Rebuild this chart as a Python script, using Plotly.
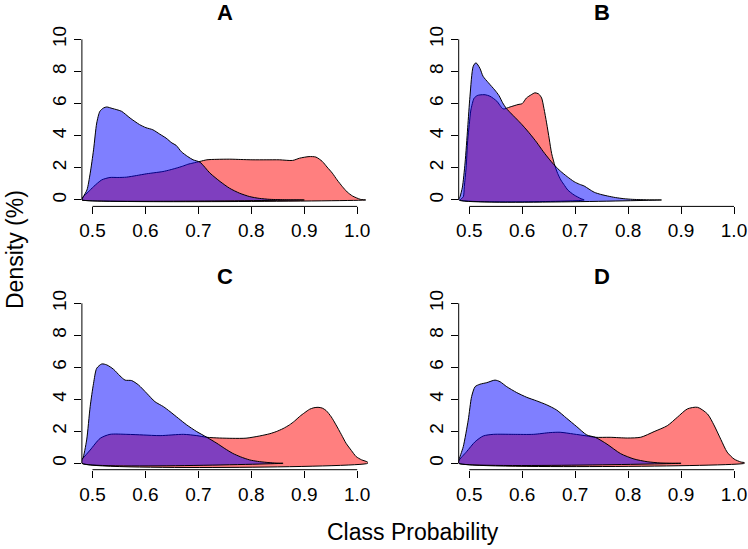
import plotly.graph_objects as go

# ---------------- data ----------------
panels = ["A", "B", "C", "D"]

a_blue_x = [0.48, 0.4825, 0.4895, 0.4957, 0.502, 0.508, 0.514, 0.521, 0.527, 0.537, 0.546, 0.555, 0.571, 0.589,
            0.601, 0.614, 0.627, 0.639, 0.65, 0.658, 0.668, 0.68, 0.69, 0.703, 0.722, 0.741, 0.759, 0.778, 0.797,
            0.815, 0.835, 0.866, 0.9]
a_blue_y = [0.05, 0.2, 0.62, 1.67, 3.12, 4.79, 5.52, 5.73, 5.79, 5.7, 5.62, 5.52, 5.1, 4.69, 4.5, 4.37, 4.1, 3.85,
            3.55, 3.4, 3.0, 2.7, 2.5, 2.35, 1.67, 1.15, 0.73, 0.42, 0.21, 0.1, 0.04, 0.01, 0.0]
a_red_x = [0.48, 0.4825, 0.492, 0.502, 0.5175, 0.533, 0.548, 0.564, 0.583, 0.602, 0.618, 0.633, 0.646, 0.658, 0.67,
           0.68, 0.69, 0.703, 0.716, 0.735, 0.759, 0.78, 0.803, 0.828, 0.853, 0.878, 0.891, 0.909, 0.922, 0.934,
           0.943, 0.953, 0.962, 0.972, 0.981, 0.991, 1.006, 1.016]
a_red_y = [0.05, 0.2, 0.5, 0.83, 1.25, 1.4, 1.4, 1.42, 1.52, 1.63, 1.7, 1.77, 1.87, 1.98, 2.1, 2.22, 2.3, 2.4, 2.5,
           2.53, 2.54, 2.52, 2.5, 2.5, 2.5, 2.46, 2.6, 2.7, 2.67, 2.4, 2.05, 1.67, 1.25, 0.83, 0.5, 0.25, 0.04, 0.0]

b_blue_x = [0.48, 0.4825, 0.487, 0.492, 0.497, 0.5013, 0.5075, 0.5126, 0.52, 0.526, 0.536, 0.548, 0.556, 0.563,
            0.57, 0.58, 0.592, 0.602, 0.615, 0.627, 0.64, 0.652, 0.662, 0.672, 0.685, 0.698, 0.708, 0.717, 0.726,
            0.736, 0.748, 0.761, 0.776, 0.792, 0.808, 0.824, 0.845, 0.863]
b_blue_y = [0.0, 0.2, 0.8, 2.3, 4.5, 6.46, 8.33, 8.54, 8.2, 7.7, 7.3, 6.85, 6.5, 6.05, 5.7, 5.35, 4.95, 4.6, 4.1,
            3.6, 3.0, 2.5, 2.12, 1.8, 1.45, 1.14, 0.98, 0.87, 0.68, 0.48, 0.35, 0.25, 0.15, 0.08, 0.04, 0.02,
            0.005, 0.0]
b_red_x = [0.483, 0.4887, 0.4906, 0.494, 0.497, 0.5, 0.503, 0.509, 0.515, 0.52, 0.53, 0.539, 0.552, 0.564, 0.577,
           0.592, 0.6, 0.608, 0.617, 0.624, 0.631, 0.6366, 0.641, 0.646, 0.651, 0.6555, 0.662, 0.667, 0.673, 0.68,
           0.686, 0.698, 0.711, 0.717]
b_red_y = [0.0, 0.2, 0.83, 2.0, 3.7, 4.7, 5.6, 6.33, 6.5, 6.54, 6.55, 6.46, 6.15, 5.67, 5.79, 5.94, 6.0, 6.35, 6.55,
           6.67, 6.6, 6.35, 5.7, 4.8, 3.8, 2.9, 2.1, 1.65, 1.24, 0.9, 0.62, 0.31, 0.08, 0.0]

c_blue_x = [0.48, 0.4818, 0.489, 0.4956, 0.502, 0.508, 0.5176, 0.527, 0.5396, 0.552, 0.5616, 0.574, 0.5868, 0.6025,
            0.618, 0.634, 0.6465, 0.6623, 0.678, 0.697, 0.716, 0.735, 0.75, 0.765, 0.78, 0.797, 0.812, 0.828,
            0.843, 0.86]
c_blue_y = [0.25, 0.31, 1.46, 3.54, 5.0, 5.94, 6.21, 6.15, 5.88, 5.46, 5.2, 5.17, 4.9, 4.375, 3.85, 3.54, 3.23,
            2.81, 2.4, 1.98, 1.625, 1.25, 0.92, 0.62, 0.4, 0.21, 0.12, 0.06, 0.02, 0.0]
c_red_x = [0.48, 0.4818, 0.4956, 0.5145, 0.533, 0.565, 0.596, 0.6277, 0.672, 0.697, 0.716, 0.74, 0.765, 0.79,
           0.816, 0.835, 0.847, 0.86, 0.872, 0.882, 0.891, 0.901, 0.91, 0.918, 0.926, 0.934, 0.9415, 0.951, 0.96,
           0.97, 0.979, 0.989, 0.998, 1.008, 1.02]
c_red_y = [0.25, 0.31, 0.83, 1.56, 1.81, 1.81, 1.77, 1.73, 1.81, 1.73, 1.625, 1.58, 1.56, 1.57, 1.71, 1.85, 1.98,
           2.17, 2.4, 2.65, 2.92, 3.17, 3.375, 3.47, 3.5, 3.45, 3.29, 2.9, 2.4, 1.8, 1.25, 0.8, 0.42, 0.22, 0.07]

d_blue_x = [0.48, 0.4886, 0.498, 0.5044, 0.511, 0.52, 0.533, 0.5486, 0.558, 0.5707, 0.5896, 0.6085, 0.6274, 0.6464,
            0.665, 0.684, 0.703, 0.722, 0.738, 0.76, 0.786, 0.811, 0.836, 0.862, 0.9]
d_blue_y = [0.15, 1.04, 2.7, 4.17, 4.79, 4.94, 5.04, 5.2, 5.1, 4.79, 4.42, 4.125, 3.9, 3.65, 3.33, 2.81, 2.29, 1.77,
            1.625, 1.2, 0.6, 0.27, 0.1, 0.02, 0.0]
d_red_x = [0.48, 0.495, 0.511, 0.5265, 0.5454, 0.583, 0.621, 0.6527, 0.6716, 0.697, 0.722, 0.738, 0.766, 0.799,
           0.824, 0.849, 0.874, 0.893, 0.912, 0.931, 0.95, 0.962, 0.975, 0.987, 1.0, 1.013, 1.02]
d_red_y = [0.15, 0.73, 1.35, 1.71, 1.81, 1.81, 1.81, 1.92, 1.94, 1.83, 1.71, 1.625, 1.625, 1.58, 1.63, 1.98, 2.35,
           2.88, 3.4, 3.5, 3.08, 2.4, 1.5, 0.7, 0.27, 0.08, 0.04]

series = {
    "A": ((a_red_x, a_red_y), (a_blue_x, a_blue_y)),
    "B": ((b_red_x, b_red_y), (b_blue_x, b_blue_y)),
    "C": ((c_red_x, c_red_y), (c_blue_x, c_blue_y)),
    "D": ((d_red_x, d_red_y), (d_blue_x, d_blue_y)),
}

x_ticks = [0.5, 0.6, 0.7, 0.8, 0.9, 1.0]
y_ticks = [0, 2, 4, 6, 8, 10]
x_title = "Class Probability"
y_title = "Density (%)"

# ---------------- layout geometry (pixels) ----------------
W, H = 748, 549
FONT = "Liberation Sans, Arial, Helvetica, sans-serif"
# plot regions: left, right, top, bottom in pixels
regions = {
    "A": (81.9, 367.8, 32.9, 206.4),
    "B": (458.7, 744.6, 32.9, 206.4),
    "C": (81.9, 367.8, 296.9, 469.7),
    "D": (458.7, 744.6, 296.9, 469.7),
}

RED_FILL = "rgba(255,0,0,0.5)"
BLUE_FILL = "rgba(0,0,255,0.5)"


def closed(xs, ys):
    px, py = list(xs), list(ys)
    if py[0] != 0:
        px.insert(0, xs[0]); py.insert(0, 0)
    if py[-1] != 0:
        px.append(xs[-1]); py.append(0)
    px.append(px[0]); py.append(0)
    return px, py


fig = go.Figure()
shapes = []
annotations = []

for i, p in enumerate(panels):
    n = "" if i == 0 else str(i + 1)
    xa, ya = "x" + n, "y" + n
    l, r, t, b = regions[p]
    xdom = [l / W, r / W]
    ydom = [1 - b / H, 1 - t / H]
    (rx, ry), (bx, by) = series[p]
    for (sx, sy), col in (((rx, ry), RED_FILL), ((bx, by), BLUE_FILL)):
        px, py = closed(sx, sy)
        fig.add_trace(go.Scatter(
            x=px, y=py, xaxis=xa, yaxis=ya, mode="lines", fill="toself",
            fillcolor=col, line=dict(color="black", width=1, shape="spline", smoothing=0.7),
            hoverinfo="skip", showlegend=False))
    axis_common = dict(showgrid=False, zeroline=False, showline=False, ticks="outside", ticklen=7,
                       tickwidth=1, tickcolor="black", automargin=False, ticklabeloverflow="allow",
                       tickfont=dict(family=FONT, size=19, color="black"))
    fig.layout["xaxis" + n] = dict(domain=xdom, range=[0.48, 1.02], tickvals=x_ticks, tickformat=".1f",
                                   anchor=ya, **axis_common)
    fig.layout["yaxis" + n] = dict(domain=ydom, range=[-0.4, 10.4], tickvals=y_ticks, tickangle=-90,
                                   anchor=xa, **axis_common)
    # R-style axis lines spanning only the tick range
    shapes.append(dict(type="line", xref=xa, yref="paper", x0=x_ticks[0], x1=x_ticks[-1],
                       y0=ydom[0], y1=ydom[0], line=dict(color="black", width=1)))
    shapes.append(dict(type="line", xref="paper", yref=ya, x0=xdom[0], x1=xdom[0],
                       y0=y_ticks[0], y1=y_ticks[-1], line=dict(color="black", width=1)))
    annotations.append(dict(text="<b>%s</b>" % p, xref="paper", yref="paper", x=(l + r) / 2 / W,
                            y=1 - (t - 20) / H, xanchor="center", yanchor="middle", showarrow=False,
                            font=dict(family=FONT, size=22, color="black")))

annotations.append(dict(text=x_title, xref="paper", yref="paper", x=413 / W, y=1 - 532 / H,
                        xanchor="center", yanchor="middle", showarrow=False,
                        font=dict(family=FONT, size=23, color="black")))
annotations.append(dict(text=y_title, xref="paper", yref="paper", x=15 / W, y=1 - 250 / H,
                        xanchor="center", yanchor="middle", textangle=-90, showarrow=False,
                        font=dict(family=FONT, size=23, color="black")))

fig.update_layout(width=W, height=H, margin=dict(l=0, r=0, t=0, b=0), paper_bgcolor="white",
                  plot_bgcolor="white", shapes=shapes, annotations=annotations, showlegend=False)

fig.write_html("out.html", config={"displayModeBar": False},
               post_script="document.body.style.margin='0';document.body.style.overflow='hidden';")
